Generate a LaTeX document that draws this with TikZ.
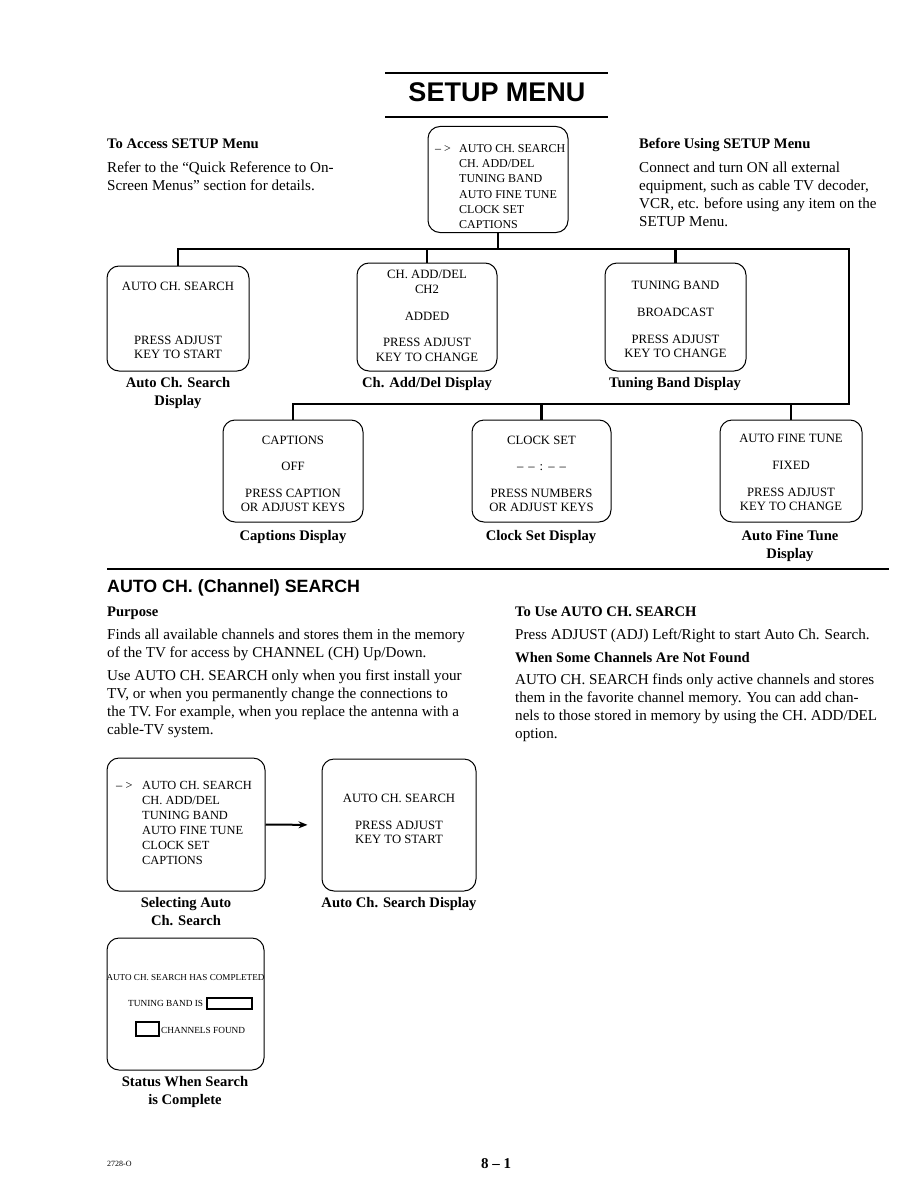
\documentclass[tikz,border=0pt]{standalone}
\usepackage{fontspec}
\setmainfont{Liberation Serif}
\newfontfamily\hsans{Liberation Sans}
\usetikzlibrary{arrows.meta}
\tikzset{
  scr/.style={draw, line width=1pt, rounded corners=12pt, inner sep=0pt},
  bus/.style={line width=2.6pt},
  btxt/.style={anchor=base, inner sep=0pt, font=\fontsize{12.7}{14}\selectfont},
  ltxt/.style={anchor=base west, inner sep=0pt, font=\fontsize{12.4}{15}\selectfont},
  lbl/.style={anchor=base, inner sep=0pt, font=\bfseries\fontsize{14.6}{18}\selectfont},
  para/.style={anchor=base west, inner sep=0pt, font=\fontsize{15.1}{18}\selectfont},
  head/.style={anchor=base west, inner sep=0pt, font=\bfseries\fontsize{14.6}{18}\selectfont},
  tiny/.style={inner sep=0pt, font=\fontsize{9.3}{11}\selectfont},
  arr/.style={line width=2pt, -{Stealth[length=9pt,width=7pt]}, shorten >=14pt},
}
\begin{document}
\begin{tikzpicture}[x=1pt,y=-1pt]
\useasboundingbox[fill=white] (0,0) rectangle (918,1188);

% title
\draw[line width=2pt] (385,73) -- (608,73);
\draw[line width=2pt] (385,117) -- (608,117);
\node[anchor=base, inner sep=0pt, font=\hsans\bfseries\fontsize{27}{30}\selectfont] (title) at (497,102) {SETUP MENU};

% side texts
\node[head] (accH) at (107,149) {To Access SETUP Menu};
\node[para] (accP) at (107,172) {\parbox[t]{300pt}{\raggedright Refer to the “Quick Reference to On-\\Screen Menus” section for details.}};
\node[head] (befH) at (639,149) {Before Using SETUP Menu};
\node[para] (befP) at (639,172) {\parbox[t]{275pt}{\raggedright Connect and turn ON all external\\equipment, such as cable TV decoder,\\VCR, etc. before using any item on the\\SETUP Menu.}};

% main menu box
\node[scr, minimum width=140pt, minimum height=106pt] (m) at (498,179.5) {};
\node[ltxt, font=\fontsize{12}{15}\selectfont] (mt) at (435,153) {\parbox[t]{135pt}{\makebox[24pt][l]{– >}AUTO CH. SEARCH\\\hspace*{24pt}CH. ADD/DEL\\\hspace*{24pt}TUNING BAND\\\hspace*{24pt}AUTO FINE TUNE\\\hspace*{24pt}CLOCK SET\\\hspace*{24pt}CAPTIONS}};

% first row of displays
\node[scr, minimum width=142pt, minimum height=105pt] (b1) at (178,318.5) {};
\node[scr, minimum width=140pt, minimum height=108pt] (b2) at (427,317) {};
\node[scr, minimum width=141pt, minimum height=108pt] (b3) at (675.5,317) {};
\node[btxt] (b1t) at (178,290.2) {\parbox[t]{140pt}{\centering AUTO CH. SEARCH\\[40pt]PRESS ADJUST\\KEY TO START}};
\node[btxt] (b2t) at (427,278.2) {\parbox[t]{140pt}{\centering CH. ADD/DEL\\[1pt]CH2\\[13pt]ADDED\\[12pt]PRESS ADJUST\\[1pt]KEY TO CHANGE}};
\node[btxt] (b3t) at (675.5,289.2) {\parbox[t]{140pt}{\centering TUNING BAND\\[13pt]BROADCAST\\[13pt]PRESS ADJUST\\KEY TO CHANGE}};
\node[lbl] (b1l) at (178,387) {Auto Ch. Search};
\node[lbl] (b1l2) at (178,405) {Display};
\node[lbl] (b2l) at (427,387) {Ch. Add/Del Display};
\node[lbl] (b3l) at (675,387) {Tuning Band Display};

% second row of displays
\node[scr, minimum width=140pt, minimum height=102pt] (b4) at (293,471) {};
\node[scr, minimum width=139pt, minimum height=102pt] (b5) at (541.5,471) {};
\node[scr, minimum width=142pt, minimum height=102pt] (b6) at (791,471) {};
\node[btxt] (b4t) at (293,444.2) {\parbox[t]{140pt}{\centering CAPTIONS\\[12pt]OFF\\[13pt]PRESS CAPTION\\OR ADJUST KEYS}};
\node[btxt] (b5t) at (541.5,444.2) {\parbox[t]{140pt}{\centering CLOCK SET\\[12pt]–\hspace{5pt}–\hspace{5pt}:\hspace{5pt}–\hspace{5pt}–\\[13pt]PRESS NUMBERS\\OR ADJUST KEYS}};
\node[btxt] (b6t) at (791,442.2) {\parbox[t]{140pt}{\centering AUTO FINE TUNE\\[13pt]FIXED\\[13pt]PRESS ADJUST\\KEY TO CHANGE}};
\node[lbl] (b4l) at (293,540) {Captions Display};
\node[lbl] (b5l) at (541,540) {Clock Set Display};
\node[lbl] (b6l) at (790,540) {Auto Fine Tune};
\node[lbl] (b6l2) at (790,558) {Display};

% tree connectors
\coordinate (busA) at (0,249);
\coordinate (busR) at (849,249);
\coordinate (busB) at (849,404);
\draw[bus, line join=miter] (b1.north) -- (b1.north |- busA) -- (busR) -- (busB) -- (b4.north |- busB) -- (b4.north);
\draw[bus] (m.south) -- (m.south |- busA);
\draw[bus] (b2.north) -- (b2.north |- busA);
\draw[bus] (b3.north) -- (b3.north |- busA);
\draw[bus] (b5.north) -- (b5.north |- busB);
\draw[bus] (b6.north) -- (b6.north |- busB);

% section rule
\draw[line width=1.5pt] (107,569) -- (889,569);

% section text
\node[anchor=base west, inner sep=0pt, font=\hsans\bfseries\fontsize{17.8}{20}\selectfont] (sec) at (107,592) {AUTO CH. (Channel) SEARCH};
\node[head] (purH) at (107,616) {Purpose};
\node[para] (purP1) at (107,639) {\parbox[t]{390pt}{\raggedright Finds all available channels and stores them in the memory\\of the TV for access by CHANNEL (CH) Up/Down.}};
\node[para] (purP2) at (107,680) {\parbox[t]{390pt}{\raggedright Use AUTO CH. SEARCH only when you first install your\\TV, or when you permanently change the connections to\\the TV. For example, when you replace the antenna with a\\cable-TV system.}};
\node[head] (useH) at (515,616) {To Use AUTO CH. SEARCH};
\node[para] (useP) at (515,639) {Press ADJUST (ADJ) Left/Right to start Auto Ch. Search.};
\node[head] (notH) at (515,662) {When Some Channels Are Not Found};
\node[para] (notP) at (515,684) {\parbox[t]{390pt}{\raggedright AUTO CH. SEARCH finds only active channels and stores\\them in the favorite channel memory. You can add chan-\\nels to those stored in memory by using the CH. ADD/DEL\\option.}};

% bottom example displays
\node[scr, minimum width=158pt, minimum height=133pt] (b7) at (186,824.5) {};
\node[scr, minimum width=154pt, minimum height=132pt] (b8) at (399,825) {};
\node[ltxt] (b7t) at (116,789.2) {\parbox[t]{150pt}{\makebox[26pt][l]{– >}AUTO CH. SEARCH\\\hspace*{26pt}CH. ADD/DEL\\\hspace*{26pt}TUNING BAND\\\hspace*{26pt}AUTO FINE TUNE\\\hspace*{26pt}CLOCK SET\\\hspace*{26pt}CAPTIONS}};
\node[btxt] (b8t) at (399,802.2) {\parbox[t]{150pt}{\centering AUTO CH. SEARCH\\[13pt]PRESS ADJUST\\KEY TO START}};
\draw[arr] (b7.east) -- (b8.west);
\node[lbl] (b7l) at (186,907) {Selecting Auto};
\node[lbl] (b7l2) at (186,925) {Ch. Search};
\node[lbl] (b8l) at (399,907) {Auto Ch. Search Display};

% status box
\node[scr, minimum width=157pt, minimum height=132pt] (b9) at (185.5,1004) {};
\node[tiny, anchor=base, font=\fontsize{9.1}{11}\selectfont] (b9t1) at (185.5,980.5) {AUTO CH. SEARCH HAS COMPLETED};
\node[tiny, anchor=base west] (b9t2) at (128,1006.5) {TUNING BAND IS};
\node[draw, line width=1.6pt, inner sep=0pt, minimum width=45pt, minimum height=11pt] (tbox) at (229.5,1003.5) {};
\node[draw, line width=1.6pt, inner sep=0pt, minimum width=23pt, minimum height=14pt] (cbox) at (147.5,1029) {};
\node[tiny, anchor=base west] (b9t3) at (161,1033.5) {CHANNELS FOUND};
\node[lbl] (b9l) at (185,1086) {Status When Search};
\node[lbl] (b9l2) at (185,1104) {is Complete};

% footer
\node[anchor=base west, inner sep=0pt, font=\fontsize{8}{9}\selectfont] (code) at (107,1166) {2728-O};
\node[anchor=base, inner sep=0pt, font=\bfseries\fontsize{15}{18}\selectfont] (page) at (496,1168) {8 – 1};
\end{tikzpicture}
\end{document}
